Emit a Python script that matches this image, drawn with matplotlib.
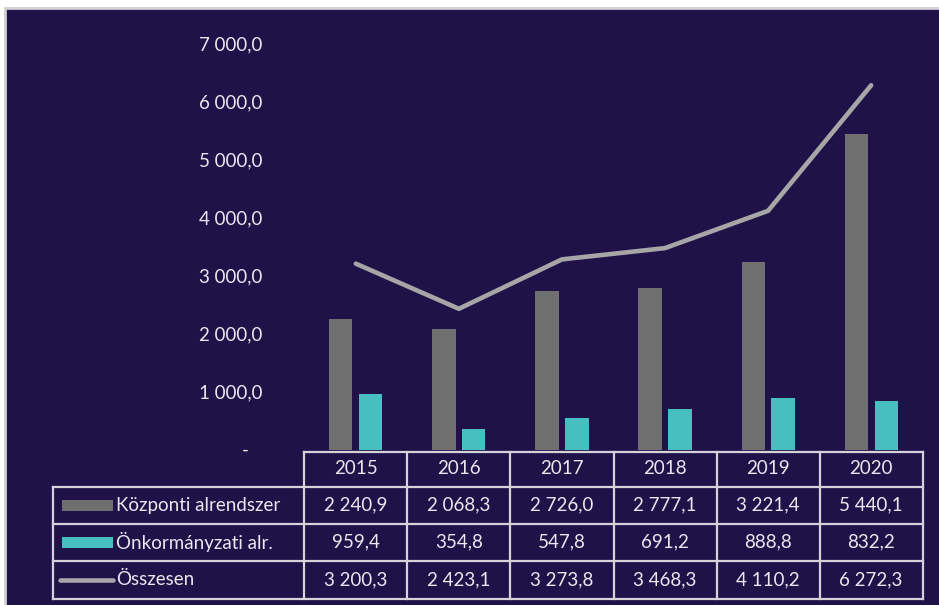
import numpy as np
import matplotlib
matplotlib.use("Agg")
import matplotlib.pyplot as plt
from matplotlib.patches import Rectangle
from matplotlib.lines import Line2D

# --- data ---
years = ["2015", "2016", "2017", "2018", "2019", "2020"]
kozponti = [2240.9, 2068.3, 2726.0, 2777.1, 3221.4, 5440.1]
onkorm = [959.4, 354.8, 547.8, 691.2, 888.8, 832.2]
osszesen = [3200.3, 2423.1, 3273.8, 3468.3, 4110.2, 6272.3]
series_names = ["Központi alrendszer", "Önkormányzati alr.", "Összesen"]
y_ticks = [0, 1000, 2000, 3000, 4000, 5000, 6000, 7000]

BG = "#1f1249"
GREY_BAR = "#6f6f6f"
TEAL = "#47bec0"
LINE_C = "#a6a6a6"
TXT = "#e8e8ee"
BORDER = "#d4d4d8"
FS = 13.5

plt.rcParams["font.family"] = ["Lato", "DejaVu Sans"]

W, H = 939, 605
fig = plt.figure(figsize=(W / 100, H / 100), dpi=100, facecolor="white")

# overlay in pixel coords for background + table
ov = fig.add_axes([0, 0, 1, 1], zorder=0)
ov.set_xlim(0, W)
ov.set_ylim(H, 0)
ov.axis("off")
ov.add_patch(Rectangle((5, 8), W, H, facecolor=BG, edgecolor="#cfcfd4", lw=2))


def hu(v):
    s = f"{v:,.1f}"
    return s.replace(",", " ").replace(".", ",")


def yfmt(v):
    if v == 0:
        return "-   "
    return f"{v:,.1f}".replace(",", " ").replace(".", ",")


# main chart area
x_left, x_right = 304.3, 922.7
y_zero, y_top = 449.5, 43
ax = fig.add_axes([x_left / W, (H - y_zero) / H, (x_right - x_left) / W, (y_zero - y_top) / H], zorder=2)
ax.set_facecolor("none")
x = np.arange(len(years))
bw = 0.225
ax.bar(x - 0.145, kozponti, bw, color=GREY_BAR, zorder=2)
ax.bar(x + 0.145, onkorm, bw, color=TEAL, zorder=2)
ax.plot(x, osszesen, color=LINE_C, lw=3.3, solid_capstyle="round", solid_joinstyle="round", zorder=3)
ax.set_xlim(-0.5, len(years) - 0.5)
ax.set_ylim(0, 7000)
ax.set_yticks(y_ticks)
ax.set_yticklabels([yfmt(v) for v in y_ticks], color=TXT, fontsize=FS)
ax.tick_params(axis="y", length=0, pad=30)
ax.set_xticks([])
for s in ax.spines.values():
    s.set_visible(False)

# --- data table ---
col_edges = np.linspace(x_left, x_right, len(years) + 1)
row_edges = [451.5, 486.5, 523.5, 561, 598.5]
lab_left = 52.5
lw_t = 1.6

# header row (years)
ov.plot([x_left, x_right], [row_edges[0]] * 2, color=BORDER, lw=lw_t)
for r in range(1, len(row_edges)):
    ov.plot([lab_left, x_right], [row_edges[r]] * 2, color=BORDER, lw=lw_t)
for cx in col_edges:
    ov.plot([cx, cx], [row_edges[0], row_edges[-1]], color=BORDER, lw=lw_t)
ov.plot([lab_left, lab_left], [row_edges[1], row_edges[-1]], color=BORDER, lw=lw_t)

centers = (col_edges[:-1] + col_edges[1:]) / 2
rows_y = [(row_edges[i] + row_edges[i + 1]) / 2 for i in range(len(row_edges) - 1)]
for cx, yr in zip(centers, years):
    ov.text(cx, rows_y[0], yr, color=TXT, fontsize=FS, ha="center", va="center")
for vals, ry in zip([kozponti, onkorm, osszesen], rows_y[1:]):
    for cx, v in zip(centers, vals):
        ov.text(cx, ry, hu(v), color=TXT, fontsize=FS, ha="center", va="center")

# legend keys in row labels
ov.add_patch(Rectangle((62, rows_y[1] - 5.5), 51, 11, facecolor=GREY_BAR, edgecolor="none"))
ov.add_patch(Rectangle((62, rows_y[2] - 5.5), 51, 11, facecolor=TEAL, edgecolor="none"))
ov.add_line(Line2D([60, 113], [rows_y[3], rows_y[3]], color=LINE_C, lw=3.3, solid_capstyle="round"))
for name, ry in zip(series_names, rows_y[1:]):
    ov.text(116, ry, name, color=TXT, fontsize=FS, ha="left", va="center")

fig.savefig("out.png", dpi=100, facecolor="white")
